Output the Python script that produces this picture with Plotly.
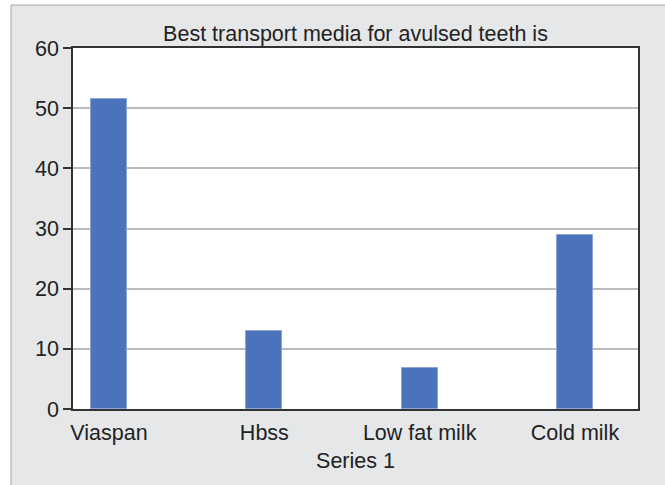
import plotly.graph_objects as go

categories = ["Viaspan", "Hbss", "Low fat milk", "Cold milk"]
values = [51.6, 13.0, 6.8, 28.9]
y_ticks = [0, 10, 20, 30, 40, 50, 60]

W, H = 665, 485
L, R, T, B = 73, 638, 48, 409

fig = go.Figure()
fig.add_trace(go.Bar(
    x=list(range(len(categories))), y=values, width=0.232,
    marker=dict(color="#4a73bc", line=dict(color="#8aa6d6", width=1)),
    showlegend=False,
))

pw, ph = R - L, B - T
def px2x(p): return (p - L) / pw
def px2y(p): return (B - p) / ph

shapes = [
    dict(type="rect", xref="paper", yref="paper", x0=px2x(-5), x1=px2x(11), y0=px2y(H + 5), y1=px2y(-5),
         fillcolor="white", line=dict(width=0), layer="below"),
    dict(type="rect", xref="paper", yref="paper", x0=px2x(-5), x1=px2x(W + 5), y0=px2y(5), y1=px2y(-5),
         fillcolor="white", line=dict(width=0), layer="below"),
    dict(type="line", xref="paper", yref="paper", x0=px2x(11), x1=px2x(11), y0=px2y(5), y1=px2y(H + 5),
         line=dict(color="#a8a8a8", width=1)),
    dict(type="line", xref="paper", yref="paper", x0=px2x(11), x1=px2x(W + 5), y0=px2y(5), y1=px2y(5),
         line=dict(color="#a8a8a8", width=1)),
]

FS = 21.5
fig.update_layout(
    width=W, height=H,
    margin=dict(l=L, r=W - R, t=T, b=H - B),
    paper_bgcolor="#e6e7e9", plot_bgcolor="white",
    font=dict(family="Liberation Sans, Arial, sans-serif", size=FS, color="#222222"),
    title=dict(text="Best transport media for avulsed teeth is", xref="paper", x=0.5, xanchor="center",
               y=1 - 33 / H, yanchor="middle", font=dict(size=FS, color="#222222")),
    shapes=shapes,
    bargap=0,
)
fig.update_xaxes(
    range=[-0.232, 3.406], tickmode="array", tickvals=list(range(len(categories))),
    ticktext=categories, showgrid=False, showline=True, linecolor="#333333", linewidth=1.5,
    mirror=True, ticks="", zeroline=False, ticklabelstandoff=3,
    title=dict(text="Series 1", standoff=9, font=dict(size=FS)),
)
fig.update_yaxes(
    range=[0, 60], tickmode="array", tickvals=y_ticks, showgrid=True, gridcolor="#bcbcbc",
    gridwidth=1.5, showline=True, linecolor="#333333", linewidth=1.5, mirror=True,
    ticks="outside", ticklen=8, tickcolor="#333333", tickwidth=1.5, zeroline=False,
)
fig.write_html("out.html")
